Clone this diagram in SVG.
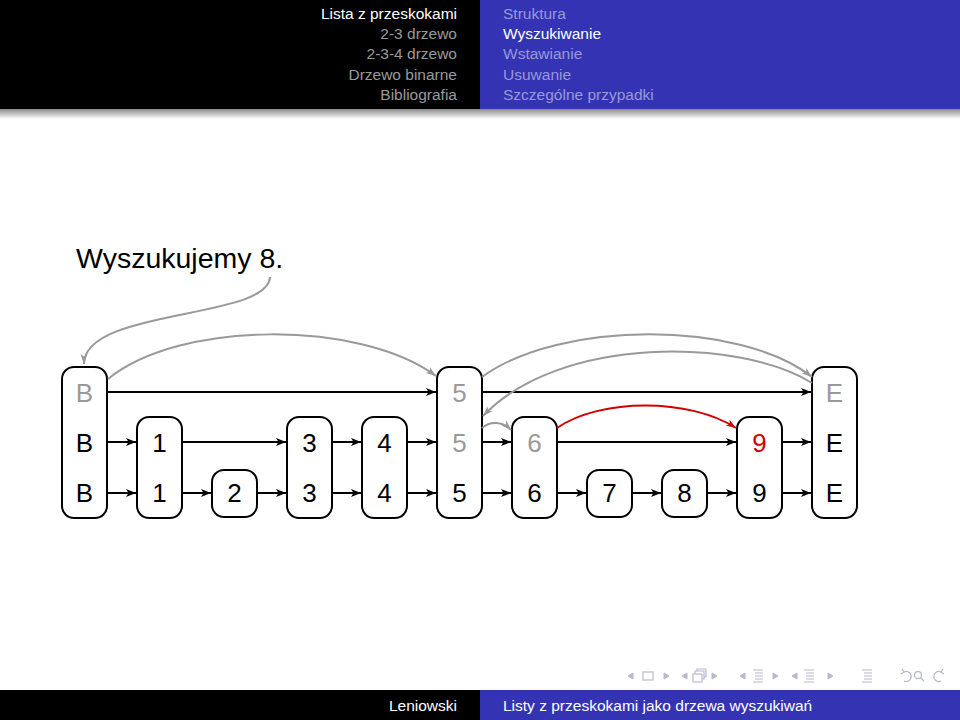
<svg xmlns="http://www.w3.org/2000/svg" width="960" height="720" viewBox="0 0 960 720">
<defs>
<linearGradient id="shadow" x1="0" y1="0" x2="0" y2="1">
<stop offset="0" stop-color="#8a8a8a"/>
<stop offset="1" stop-color="#ffffff"/>
</linearGradient>
<marker id="ab" markerUnits="userSpaceOnUse" markerWidth="12" markerHeight="10" refX="10" refY="4" orient="auto"><path d="M0,0 L10,4 L0,8 L2.5,4 z" fill="#000"/></marker>
<marker id="ag" markerUnits="userSpaceOnUse" markerWidth="12" markerHeight="10" refX="10" refY="4" orient="auto"><path d="M0,0.5 L10,4 L0,7.5 L2.5,4 z" fill="#999"/></marker>
<marker id="ar" markerUnits="userSpaceOnUse" markerWidth="12" markerHeight="10" refX="10" refY="4" orient="auto"><path d="M0,0.5 L10,4 L0,7.5 L2.5,4 z" fill="#d00000"/></marker>
</defs>
<style>
.hd{font-family:"Liberation Sans",Arial,sans-serif;font-size:15.5px}
.ft{font-family:"Liberation Sans",Arial,sans-serif;font-size:15.5px;fill:#fff}
.box{fill:#fff;stroke:#000;stroke-width:2}
.t{font-family:"Liberation Sans",Arial,sans-serif;font-size:26px;text-anchor:middle}
.g{fill:#999}
.k{fill:#000}
.r{fill:#d00000}
.ln{stroke:#000;stroke-width:2;fill:none;marker-end:url(#ab)}
.gc{stroke:#999;stroke-width:2;fill:none;marker-end:url(#ag)}
.rc{stroke:#d00000;stroke-width:2;fill:none;marker-end:url(#ar)}
.nav{fill:#b8b8d0;stroke:#b8b8d0}
</style>
<rect x="0" y="0" width="960" height="720" fill="#fff"/>
<g id="header">
<rect x="0" y="0" width="480" height="109" fill="#000"/>
<rect x="480" y="0" width="480" height="109" fill="#3333b3"/>
<rect x="0" y="109" width="960" height="10" fill="url(#shadow)"/>
<g class="hd" text-anchor="end">
<text x="457" y="19" fill="#fff">Lista z przeskokami</text>
<text x="457" y="39" fill="#9a9a9a">2-3 drzewo</text>
<text x="457" y="59" fill="#9a9a9a">2-3-4 drzewo</text>
<text x="457" y="80" fill="#9a9a9a">Drzewo binarne</text>
<text x="457" y="100" fill="#9a9a9a">Bibliografia</text>
</g>
<g class="hd">
<text x="503" y="19" fill="#9999d9">Struktura</text>
<text x="503" y="39" fill="#fff">Wyszukiwanie</text>
<text x="503" y="59" fill="#9999d9">Wstawianie</text>
<text x="503" y="80" fill="#9999d9">Usuwanie</text>
<text x="503" y="100" fill="#9999d9">Szczególne przypadki</text>
</g>
</g>
<text id="title" x="76" y="268" font-family="Liberation Sans, Arial, sans-serif" font-size="28.5" fill="#000">Wyszukujemy 8.</text>
<g id="nodes">
<g id="nB"><rect class="box" x="62" y="367" width="45" height="151" rx="12"/><text class="t g" x="84.5" y="402">B</text><text class="t k" x="84.5" y="452">B</text><text class="t k" x="84.5" y="502">B</text></g>
<g id="n1"><rect class="box" x="137" y="417" width="45" height="101" rx="12"/><text class="t k" x="159.5" y="452">1</text><text class="t k" x="159.5" y="502">1</text></g>
<g id="n2"><rect class="box" x="212" y="470" width="45" height="47" rx="12"/><text class="t k" x="234.5" y="502">2</text></g>
<g id="n3"><rect class="box" x="287" y="417" width="45" height="101" rx="12"/><text class="t k" x="309.5" y="452">3</text><text class="t k" x="309.5" y="502">3</text></g>
<g id="n4"><rect class="box" x="362" y="417" width="45" height="101" rx="12"/><text class="t k" x="384.5" y="452">4</text><text class="t k" x="384.5" y="502">4</text></g>
<g id="n5"><rect class="box" x="437" y="367" width="45" height="151" rx="12"/><text class="t g" x="459.5" y="402">5</text><text class="t g" x="459.5" y="452">5</text><text class="t k" x="459.5" y="502">5</text></g>
<g id="n6"><rect class="box" x="512" y="417" width="45" height="101" rx="12"/><text class="t g" x="534.5" y="452">6</text><text class="t k" x="534.5" y="502">6</text></g>
<g id="n7"><rect class="box" x="587" y="470" width="45" height="47" rx="12"/><text class="t k" x="609.5" y="502">7</text></g>
<g id="n8"><rect class="box" x="662" y="470" width="45" height="47" rx="12"/><text class="t k" x="684.5" y="502">8</text></g>
<g id="n9"><rect class="box" x="737" y="417" width="45" height="101" rx="12"/><text class="t r" x="759.5" y="452">9</text><text class="t k" x="759.5" y="502">9</text></g>
<g id="nE"><rect class="box" x="812" y="367" width="45" height="151" rx="12"/><text class="t g" x="834.5" y="402">E</text><text class="t k" x="834.5" y="452">E</text><text class="t k" x="834.5" y="502">E</text></g>
</g>
<g id="connectors">
<line class="ln" x1="107" y1="392" x2="436" y2="392"/>
<line class="ln" x1="482" y1="392" x2="811" y2="392"/>
<line class="ln" x1="107" y1="442" x2="136" y2="442"/>
<line class="ln" x1="182" y1="442" x2="286" y2="442"/>
<line class="ln" x1="332" y1="442" x2="361" y2="442"/>
<line class="ln" x1="407" y1="442" x2="436" y2="442"/>
<line class="ln" x1="482" y1="442" x2="511" y2="442"/>
<line class="ln" x1="557" y1="442" x2="736" y2="442"/>
<line class="ln" x1="782" y1="442" x2="811" y2="442"/>
<line class="ln" x1="107" y1="493" x2="136" y2="493"/>
<line class="ln" x1="182" y1="493" x2="211" y2="493"/>
<line class="ln" x1="257" y1="493" x2="286" y2="493"/>
<line class="ln" x1="332" y1="493" x2="361" y2="493"/>
<line class="ln" x1="407" y1="493" x2="436" y2="493"/>
<line class="ln" x1="482" y1="493" x2="511" y2="493"/>
<line class="ln" x1="557" y1="493" x2="586" y2="493"/>
<line class="ln" x1="632" y1="493" x2="661" y2="493"/>
<line class="ln" x1="707" y1="493" x2="736" y2="493"/>
<line class="ln" x1="782" y1="493" x2="811" y2="493"/>
<path class="gc" d="M270,277 C268,320 84,308 84,364"/>
<path class="gc" d="M108,379 C180,320 360,320 436,376"/>
<path class="gc" d="M482,377 C560,320 740,320 812,377"/>
<path class="gc" d="M812,383 C740,338 560,335 483,416"/>
<path class="gc" d="M482,428 C490,421 502,421 511,430"/>
<path class="rc" d="M557,428 C600,398 690,398 736,428"/>
</g>
<g id="navigation">
<path class="nav" d="M633,673 L628,676 L633,679 z"/>
<rect x="643" y="672" width="10" height="8" fill="none" stroke="#b8b8d0" stroke-width="1.2"/>
<path class="nav" d="M664,673 L669,676 L664,679 z"/>
<path class="nav" d="M687,673 L682,676 L687,679 z"/>
<g fill="none" stroke="#b8b8d0" stroke-width="1.2"><rect x="693" y="674" width="9" height="8"/><path d="M695,674 V671 H704 V679 H702 M697,671 V669 H706 V677 H704"/></g>
<path class="nav" d="M712,673 L717,676 L712,679 z"/>
<path class="nav" d="M745,673 L740,676 L745,679 z"/>
<g fill="none" stroke="#b8b8d0" stroke-width="1.2"><path d="M753,670 H763 M755,673 H763 M755,676 H763 M755,679 H763 M753,682 H763"/></g>
<path class="nav" d="M773,673 L778,676 L773,679 z"/>
<path class="nav" d="M797,673 L792,676 L797,679 z"/>
<g fill="none" stroke="#b8b8d0" stroke-width="1.2"><path d="M804,670 H814 M806,673 H814 M806,676 H814 M806,679 H814 M804,682 H814"/></g>
<path class="nav" d="M828,673 L833,676 L828,679 z"/>
<g fill="none" stroke="#b8b8d0" stroke-width="1.2"><path d="M862,670 H872 M864,673 H872 M864,676 H872 M864,679 H872 M862,682 H872"/></g>
<g fill="none" stroke="#b8b8d0" stroke-width="1.3">
<path d="M904,672 A5,5 0 1 1 904,681"/><path d="M902,669 L904,672 L901,674"/>
<circle cx="918" cy="675" r="3.5"/><path d="M920.5,677.5 L924,681"/>
<path d="M941,672 A5,5 0 1 0 941,681"/><path d="M943,669 L941,672 L944,674"/>
</g>
</g>
<g id="footer">
<rect x="0" y="690" width="480" height="30" fill="#000"/>
<rect x="480" y="690" width="480" height="30" fill="#3333b3"/>
<text class="ft" x="457" y="711" text-anchor="end">Leniowski</text>
<text class="ft" x="503" y="711">Listy z przeskokami jako drzewa wyszukiwań</text>
</g>
</svg>
